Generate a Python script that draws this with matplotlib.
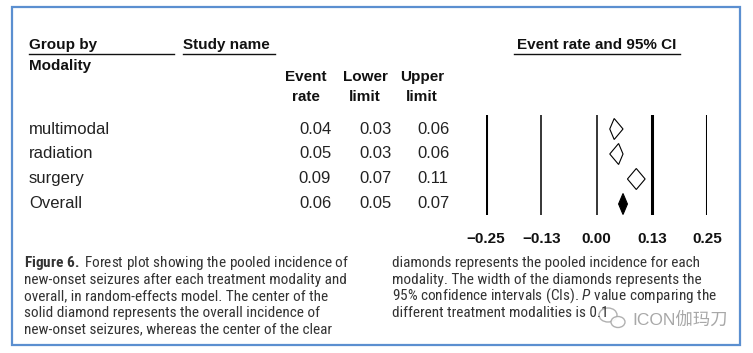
"""Forest plot : incidence des crises après chaque modalité de traitement."""
import matplotlib.pyplot as plt
from matplotlib import font_manager
from matplotlib.lines import Line2D
from matplotlib.patches import Ellipse, Polygon, Rectangle

W, H = 753, 353

groups = ["multimodal", "radiation", "surgery", "Overall"]
event_rate = [0.04, 0.05, 0.09, 0.06]
lower = [0.03, 0.03, 0.07, 0.05]
upper = [0.06, 0.06, 0.11, 0.07]
ticks = [-0.25, -0.125, 0.0, 0.125, 0.25]
tick_labels = ["\u22120.25", "\u22120.13", "0.00", "0.13", "0.25"]

caption_left = [
    r"$\bf{Figure\ 6.}$ Forest plot showing the pooled incidence of",
    "new-onset seizures after each treatment modality and",
    "overall, in random-effects model. The center of the",
    "solid diamond represents the overall incidence of",
    "new-onset seizures, whereas the center of the clear",
]
caption_right = [
    "diamonds represents the pooled incidence for each",
    "modality. The width of the diamonds represents the",
    r"95% confidence intervals (CIs). $\it{P}$ value comparing the",
    "different treatment modalities is 0.1",
]

# police étroite pour la légende si disponible
installed = {f.name for f in font_manager.fontManager.ttflist}
narrow = next((n for n in ["Liberation Sans Narrow", "Roboto Condensed",
                           "Open Sans Condensed", "DejaVu Sans Condensed"]
               if n in installed), None)
cap_font = narrow or "Liberation Sans"
cap_size = 11 if narrow else 9.6

plt.rcParams["font.family"] = ["Liberation Sans", "DejaVu Sans"]
plt.rcParams["mathtext.fontset"] = "custom"
plt.rcParams["mathtext.rm"] = cap_font
plt.rcParams["mathtext.bf"] = f"{cap_font}:bold"
plt.rcParams["mathtext.it"] = f"{cap_font}:italic"


def fx(x):
    return x / W


def fy(y):
    return 1 - y / H


fig = plt.figure(figsize=(W / 100, H / 100), dpi=100)

# cadre bleu
fig.patches.append(Rectangle((fx(12), fy(345)), fx(740) - fx(12), fy(7) - fy(345),
                             transform=fig.transFigure, fill=False,
                             edgecolor="#5b8fd0", lw=1.6))

# en-têtes
hdr = dict(fontsize=11, fontweight="bold", color="#111111")
fig.text(fx(29), fy(45), "Group by", ha="left", va="center", **hdr)
fig.text(fx(29), fy(66), "Modality", ha="left", va="center", **hdr)
fig.text(fx(183), fy(45), "Study name", ha="left", va="center", **hdr)
fig.text(fx(597), fy(45), "Event rate and 95% CI", ha="center", va="center", **hdr)
for x0, x1 in [(29, 174), (183, 275), (514, 680)]:
    fig.lines.append(Line2D([fx(x0), fx(x1)], [fy(54), fy(54)],
                            transform=fig.transFigure, color="#111111", lw=1.0))

hdr_x = [306, 365, 422]
for x, (a, b) in zip(hdr_x, [("Event", "rate"), ("Lower", "limit"), ("Upper", "limit")]):
    fig.text(fx(x), fy(77), a, ha="center", va="center", **hdr)
    fig.text(fx(x), fy(97), b, ha="center", va="center", **hdr)

# lignes du tableau
col_x = [315, 375, 433]
row_y = [129, 154, 179, 204]
txt = dict(fontsize=12, color="#222222", va="center")
for i, g in enumerate(groups):
    fig.text(fx(29), fy(row_y[i]), g, ha="left", **txt)
    for x, v in zip(col_x, (event_rate[i], lower[i], upper[i])):
        fig.text(fx(x), fy(row_y[i]), f"{v:.2f}", ha="center", **txt)

# panneau forest : x -0.25..0.25 sur 486..707 px, lignes de 115 à 215 px
ax = fig.add_axes([fx(486), fy(215), fx(707) - fx(486), fy(115) - fy(215)])
ax.set_xlim(-0.25, 0.25)
ax.set_ylim(3.44, -0.56)
for t in ticks:
    thick = t in (-0.25, 0.125, 0.25)
    ax.axvline(t, color="black", lw=2.2 if thick else 1.1, zorder=1)

for i in range(len(groups)):
    half = 0.42
    pts = [(lower[i], i), (event_rate[i], i - half), (upper[i], i), (event_rate[i], i + half)]
    overall = groups[i] == "Overall"
    ax.add_patch(Polygon(pts, closed=True, facecolor="black" if overall else "white",
                         edgecolor="black", lw=0.8, zorder=3))

ax.set_xticks(ticks)
ax.set_xticklabels(tick_labels, fontsize=11, fontweight="bold", color="#111111")
ax.tick_params(axis="x", length=0, pad=12)
ax.set_yticks([])
for s in ax.spines.values():
    s.set_visible(False)
ax.patch.set_visible(False)

# légende de la figure
cap = dict(fontsize=cap_size, color="#333333", ha="left", va="center", family=cap_font)
cap_y = [263, 280, 296, 313, 329]
for y, line in zip(cap_y, caption_left):
    fig.text(fx(24), fy(y), line, **cap)
for y, line in zip(cap_y, caption_right):
    fig.text(fx(392), fy(y), line, **cap)

# filigrane
for (cx, cy, w, h) in [(608, 315, 18, 14), (618, 322, 14, 11)]:
    fig.patches.append(Ellipse((fx(cx), fy(cy)), w / W, h / H, transform=fig.transFigure,
                               facecolor="white", edgecolor="#a8a8a8", lw=1.0, alpha=0.9))
fig.text(fx(632), fy(320), "ICON伽玛刀", fontsize=12.5, color="#a8a8a8", ha="left", va="center",
         family=["Liberation Sans", "Noto Sans CJK SC"])

fig.savefig("out.png", dpi=100)
